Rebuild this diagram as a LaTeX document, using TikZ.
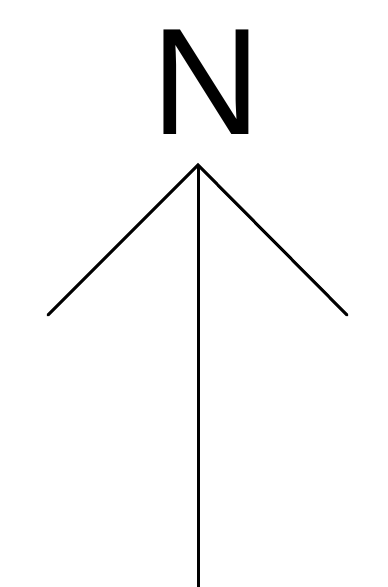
\documentclass[tikz,border=0pt]{standalone}
\usepackage{fontspec}
\setmainfont{Liberation Sans}
\usetikzlibrary{positioning}

\begin{document}
\begin{tikzpicture}[
    x=1pt, y=1pt,
    letterN/.style={
        inner sep=0pt,
        font=\fontsize{152}{152}\selectfont
    },
    needle/.style={
        line width=3pt,
        line cap=round
    }
]

\useasboundingbox (0,0) rectangle (388,587);

% Letter
\node[letterN] (north) at (206.5,504.5) {N};

% Arrow
\coordinate (tip) at (198,422);
\coordinate (leftArm) at (48,272);
\coordinate (rightArm) at (347,272);
\coordinate (foot) at (198,0);

\draw[needle] (leftArm) -- (tip) -- (rightArm);
\draw[needle, line cap=butt] (tip) -- (foot);

\end{tikzpicture}
\end{document}
